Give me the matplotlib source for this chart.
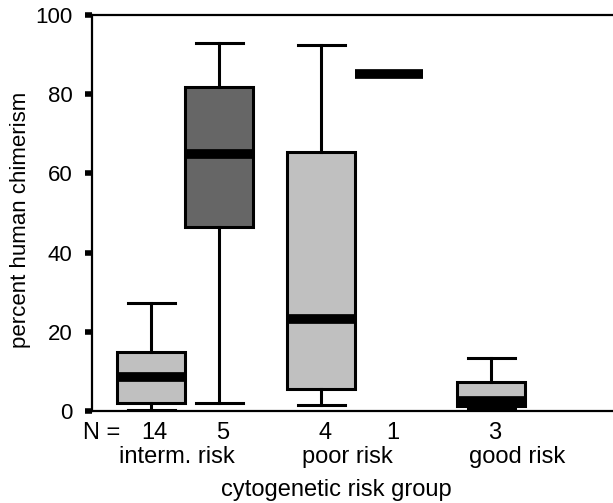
import matplotlib.pyplot as plt

plt.rcParams['font.family'] = ['Liberation Sans', 'DejaVu Sans']

# chimerism summaries per cytogenetic group / subgroup
groups = ["interm. risk", "poor risk", "good risk"]
positions = [0.8, 1.2, 1.8, 2.2, 2.8]
counts = [14, 5, 4, 1, 3]
medians = [8.5, 65.0, 23.3, 85.0, 2.4]
q1 = [2.0, 46.5, 5.5, 85.0, 1.2]
q3 = [14.8, 81.8, 65.4, 85.0, 7.3]
whislo = [0.3, 2.0, 1.5, 85.0, 0.5]
whishi = [27.2, 92.9, 92.5, 85.0, 13.4]
fills = ["#c0c0c0", "#666666", "#c0c0c0", "#c0c0c0", "#c0c0c0"]

stats = []
for i in range(len(positions)):
    stats.append({"med": medians[i], "q1": q1[i], "q3": q3[i],
                  "whislo": whislo[i], "whishi": whishi[i], "fliers": []})

fig = plt.figure(figsize=(6.13, 5.03), dpi=100)
ax = fig.add_axes([0.150, 0.183, 0.850, 0.787])

bp = ax.bxp(stats, positions=positions, widths=0.4, capwidths=0.28,
            patch_artist=True, showfliers=False,
            boxprops=dict(linewidth=2.2, edgecolor="black"),
            whiskerprops=dict(linewidth=2.2, color="black"),
            capprops=dict(linewidth=2.2, color="black"),
            medianprops=dict(linewidth=7, color="black", solid_capstyle="butt"))
for patch, c in zip(bp["boxes"], fills):
    patch.set_facecolor(c)
# single observation: no box, just the value line
bp["boxes"][3].set_visible(False)
for k in (6, 7):
    bp["whiskers"][k].set_visible(False)
    bp["caps"][k].set_visible(False)

ax.set_xlim(0.45, 3.515)
ax.set_ylim(0, 100)
ax.set_yticks([0, 20, 40, 60, 80, 100])
ax.tick_params(axis="y", direction="out", length=5, width=4, pad=9, labelsize=16)
ax.tick_params(axis="x", bottom=False, labelbottom=False)
ax.spines["right"].set_visible(False)
for s in ("left", "top", "bottom"):
    ax.spines[s].set_linewidth(1.6)

tr = ax.get_xaxis_transform()
ax.text(0.40, -0.056, "N =", transform=tr, ha="left", va="center", fontsize=17)
for p, n in zip(positions, counts):
    ax.text(p + 0.02, -0.056, str(n), transform=tr, ha="center", va="center", fontsize=17)
for g, name in enumerate(groups, start=1):
    ax.text(g - 0.05, -0.116, name, transform=tr, ha="center", va="center", fontsize=17)
ax.text(1.885, -0.2, "cytogenetic risk group", transform=tr,
        ha="center", va="center", fontsize=17)
ax.text(-0.138, 0.482, "percent human chimerism", transform=ax.transAxes,
        rotation=90, ha="center", va="center", fontsize=16)

fig.savefig("out.png", dpi=100)
